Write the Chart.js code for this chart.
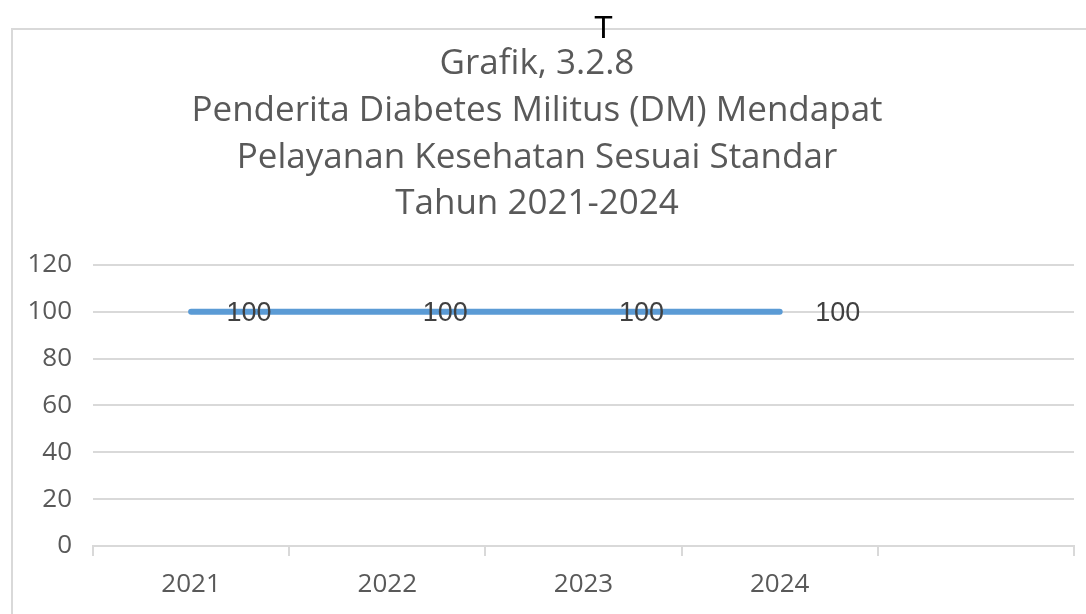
<!DOCTYPE html>
<html>
<head>
<meta charset="utf-8">
<script src="https://cdn.jsdelivr.net/npm/chart.js@4.4.1/dist/chart.umd.min.js"></script>
<style>
  html, body { margin: 0; padding: 0; background: #fff; overflow: hidden; }
  #wrap { position: relative; width: 1086px; height: 614px; }
  #frame { position: absolute; left: 11px; top: 28px; width: 1100px; height: 620px; border: 2px solid #d9d9d9; box-sizing: border-box; }
  #mark { position: absolute; left: 594px; top: 12px; font: 31px "Liberation Sans", Arial, sans-serif; color: #000; line-height: 1; }
  canvas { position: absolute; left: 0; top: 0; }
</style>
</head>
<body>
<div id="wrap">
  <div id="frame"></div>
  <canvas id="lineChart" width="1086" height="614"></canvas>
  <div id="mark">T</div>
</div>
<script>
var years = ['2021', '2022', '2023', '2024', ''];
var coverage = [100, 100, 100, 100, null];
var valueLabels = ['100', '100', '100', '100'];
var yTicks = [0, 20, 40, 60, 80, 100, 120];
var titleLines = [
    'Grafik, 3.2.8',
    'Penderita Diabetes Militus (DM) Mendapat',
    'Pelayanan Kesehatan Sesuai Standar',
    'Tahun 2021-2024'
];

// value labels sit to the right of each point
var pointLabels = {
    id: 'pointLabels',
    afterDatasetsDraw: function (chart) {
        var ctx = chart.ctx;
        var meta = chart.getDatasetMeta(0);
        ctx.save();
        ctx.font = '27px "Liberation Sans", Arial, sans-serif';
        ctx.fillStyle = '#404040';
        ctx.textAlign = 'center';
        ctx.textBaseline = 'middle';
        valueLabels.forEach(function (txt, i) {
            var pt = meta.data[i];
            ctx.fillText(txt, pt.x + 58, pt.y + 2);
        });
        ctx.restore();
    }
};

var ctx = document.getElementById('lineChart');
new Chart(ctx, {
    type: 'line',
    data: {
        labels: years,
        datasets: [{
            data: coverage,
            borderColor: '#5b9bd5',
            borderWidth: 6,
            borderCapStyle: 'round',
            pointRadius: 0,
            fill: false,
            tension: 0
        }]
    },
    options: {
        responsive: false,
        animation: false,
        layout: { padding: { left: 0, right: 12, top: 0, bottom: 0 } },
        plugins: {
            legend: { display: false },
            tooltip: { enabled: false },
            title: {
                display: true,
                text: titleLines,
                color: '#595959',
                font: { family: '"Open Sans", sans-serif', size: 35, weight: 'normal', lineHeight: 46.7 / 35 },
                padding: { top: 41, bottom: 37 }
            }
        },
        scales: {
            x: {
                offset: true,
                afterFit: function (axis) { axis.height = 68; },
                grid: { offset: true, display: true, drawOnChartArea: false, color: '#d9d9d9', lineWidth: 2, tickLength: 10 },
                border: { display: true, color: '#d9d9d9', width: 2 },
                ticks: { color: '#595959', font: { family: '"Open Sans", sans-serif', size: 26 }, padding: 13, maxRotation: 0 }
            },
            y: {
                min: 0,
                max: 120,
                afterFit: function (axis) { axis.width = 93; },
                afterBuildTicks: function (axis) {
                    axis.ticks = yTicks.map(function (v) { return { value: v }; });
                },
                grid: { color: '#d9d9d9', lineWidth: 2, drawTicks: false },
                border: { display: false },
                ticks: { color: '#595959', font: { family: '"Open Sans", sans-serif', size: 26 }, padding: 21 }
            }
        }
    },
    plugins: [pointLabels]
});
</script>
</body>
</html>
